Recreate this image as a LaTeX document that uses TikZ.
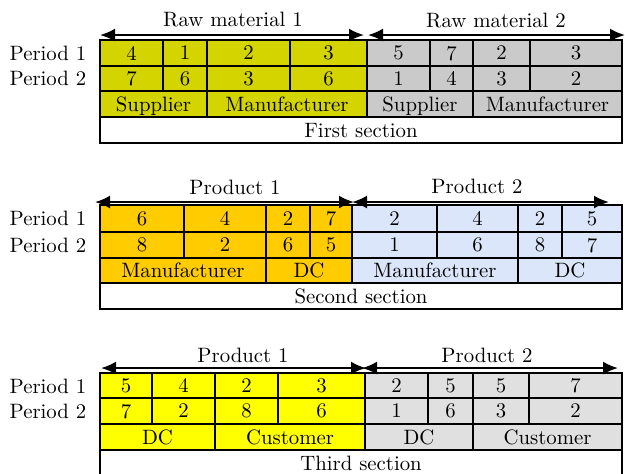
\documentclass[tikz,border=0pt]{standalone}
\usetikzlibrary{positioning,arrows.meta}

\definecolor{rawone}{RGB}{212,212,0}
\definecolor{rawtwo}{RGB}{202,202,202}
\definecolor{prodone}{RGB}{255,204,0}
\definecolor{prodtwo}{RGB}{220,230,250}
\definecolor{custone}{RGB}{255,255,0}
\definecolor{custtwo}{RGB}{224,224,224}

\begin{document}
\begin{tikzpicture}[
    x=0.5pt, y=-0.5pt,
    every node/.style={font=\fontsize{10.4}{12}\selectfont},
    cell/.style={rectangle, draw, line width=0.8pt, inner sep=0pt, text depth=0pt},
    span/.style={{Latex[length=7.5pt,width=6.5pt]}-{Latex[length=7.5pt,width=6.5pt]}, line width=1.1pt}
]
\useasboundingbox (0,0) rectangle (625,473);

% ---------- First section ----------
\node (s1per1) at (48,53) {Period 1};
\node (s1per2) at (48,78) {Period 2};

\foreach \xa/\xb/\v/\c [count=\i] in {100/163/4/rawone, 163/207/1/rawone, 207/290/2/rawone, 290/367/3/rawone,
    367/430/5/rawtwo, 430/473/7/rawtwo, 473/530/2/rawtwo, 530/622/3/rawtwo}
  \node[cell, fill=\c, minimum width={(\xb-\xa)*0.5pt}, minimum height=13pt] (s1a\i) at ({(\xa+\xb)/2},53) {\v};
\foreach \xa/\xb/\v/\c [count=\i] in {100/163/7/rawone, 163/207/6/rawone, 207/290/3/rawone, 290/367/6/rawone,
    367/430/1/rawtwo, 430/473/4/rawtwo, 473/530/3/rawtwo, 530/622/2/rawtwo}
  \node[cell, fill=\c, minimum width={(\xb-\xa)*0.5pt}, minimum height=12.5pt] (s1b\i) at ({(\xa+\xb)/2},78.5) {\v};
\foreach \xa/\xb/\v/\c [count=\i] in {100/207/Supplier/rawone, 207/367/Manufacturer/rawone,
    367/473/Supplier/rawtwo, 473/622/Manufacturer/rawtwo}
  \node[cell, fill=\c, minimum width={(\xb-\xa)*0.5pt}, minimum height=13pt] (s1r\i) at ({(\xa+\xb)/2},104) {\v};
\node[cell, fill=white, minimum width=261pt, minimum height=13pt] (s1sec) at (361,130) {First section};

\coordinate (s1l1) at (100,35);
\coordinate (s1r1) at (364,35);
\coordinate (s1l2) at (368,35);
\coordinate (s1r2) at (625,35);
\draw[span] (s1l1) -- (s1r1);
\draw[span] (s1l2) -- (s1r2);
\node (s1head1) at (233,20) {Raw material 1};
\node (s1head2) at (496,21) {Raw material 2};

% ---------- Second section ----------
\node (s2per1) at (48,218) {Period 1};
\node (s2per2) at (48,245) {Period 2};

\foreach \xa/\xb/\v/\c [count=\i] in {100/184/6/prodone, 184/266/4/prodone, 266/310/2/prodone, 310/352/7/prodone,
    352/437/2/prodtwo, 437/518/4/prodtwo, 518/562/2/prodtwo, 562/622/5/prodtwo}
  \node[cell, fill=\c, minimum width={(\xb-\xa)*0.5pt}, minimum height=13.5pt] (s2a\i) at ({(\xa+\xb)/2},218.5) {\v};
\foreach \xa/\xb/\v/\c [count=\i] in {100/184/8/prodone, 184/266/2/prodone, 266/310/6/prodone, 310/352/5/prodone,
    352/437/1/prodtwo, 437/518/6/prodtwo, 518/562/8/prodtwo, 562/622/7/prodtwo}
  \node[cell, fill=\c, minimum width={(\xb-\xa)*0.5pt}, minimum height=13pt] (s2b\i) at ({(\xa+\xb)/2},245) {\v};
\foreach \xa/\xb/\v/\c [count=\i] in {100/266/Manufacturer/prodone, 266/352/DC/prodone,
    352/518/Manufacturer/prodtwo, 518/622/DC/prodtwo}
  \node[cell, fill=\c, minimum width={(\xb-\xa)*0.5pt}, minimum height=12.5pt] (s2r\i) at ({(\xa+\xb)/2},270.5) {\v};
\node[cell, fill=white, minimum width=261pt, minimum height=13pt] (s2sec) at (361,296) {Second section};

\coordinate (s2l1) at (95,202);
\coordinate (s2r1) at (354,202);
\coordinate (s2l2) at (352,202);
\coordinate (s2r2) at (609,202);
\draw[span] (s2l1) -- (s2r1);
\draw[span] (s2l2) -- (s2r2);
\node (s2head1) at (235,187) {Product 1};
\node (s2head2) at (477,186) {Product 2};

% ---------- Third section ----------
\node (s3per1) at (48,386) {Period 1};
\node (s3per2) at (48,411) {Period 2};

\foreach \xa/\xb/\v/\c [count=\i] in {100/152/5/custone, 152/215/4/custone, 215/278/2/custone, 278/365/3/custone,
    365/428/2/custtwo, 428/473/5/custtwo, 473/529/5/custtwo, 529/622/7/custtwo}
  \node[cell, fill=\c, minimum width={(\xb-\xa)*0.5pt}, minimum height=12.5pt] (s3a\i) at ({(\xa+\xb)/2},385.5) {\v};
\foreach \xa/\xb/\v/\c [count=\i] in {100/152/7/custone, 152/215/2/custone, 215/278/8/custone, 278/365/6/custone,
    365/428/1/custtwo, 428/473/6/custtwo, 473/529/3/custtwo, 529/622/2/custtwo}
  \node[cell, fill=\c, minimum width={(\xb-\xa)*0.5pt}, minimum height=13pt] (s3b\i) at ({(\xa+\xb)/2},411) {\v};
\foreach \xa/\xb/\v/\c [count=\i] in {100/215/DC/custone, 215/365/Customer/custone,
    365/473/DC/custtwo, 473/622/Customer/custtwo}
  \node[cell, fill=\c, minimum width={(\xb-\xa)*0.5pt}, minimum height=13pt] (s3r\i) at ({(\xa+\xb)/2},437) {\v};
\node[cell, fill=white, minimum width=261pt, minimum height=13.5pt] (s3sec) at (361,463.5) {Third section};

\coordinate (s3l1) at (101,368);
\coordinate (s3r1) at (366,368);
\coordinate (s3l2) at (362,368);
\coordinate (s3r2) at (618,368);
\draw[span] (s3l1) -- (s3r1);
\draw[span] (s3l2) -- (s3r2);
\node (s3head1) at (243,355) {Product 1};
\node (s3head2) at (487,355) {Product 2};

\end{tikzpicture}
\end{document}
